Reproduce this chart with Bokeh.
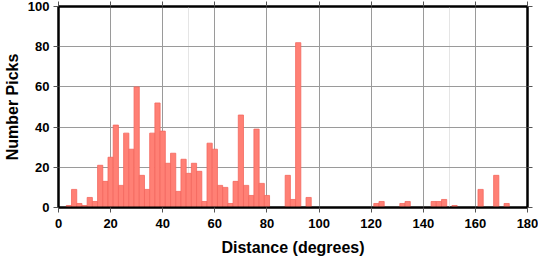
from bokeh.plotting import figure
from bokeh.models import LinearAxis, Range1d, FixedTicker, Grid
from bokeh.embed import file_html
from bokeh.resources import INLINE

# 2-degree bins, centers (degrees) and pick counts
bin_centers = [4, 6, 8, 10, 12, 14, 16, 18, 20, 22, 24, 26, 28, 30, 32, 34, 36, 38, 40,
               42, 44, 46, 48, 50, 52, 54, 56, 58, 60, 62, 64, 66, 68, 70, 72, 74, 76,
               78, 80, 88, 90, 92, 96, 122, 124, 132, 134, 144, 146, 148, 152, 162,
               168, 172]
counts = [1, 9, 2, 1, 5, 3, 21, 13, 25, 41, 11, 37, 29, 60, 16, 9, 37, 52, 38,
          22, 27, 8, 24, 17, 22, 18, 3, 32, 29, 11, 10, 2, 13, 46, 11, 6, 39,
          12, 6, 16, 4, 82, 5, 2, 3, 2, 3, 3, 3, 4, 1, 9,
          16, 2]
x_ticks = [0, 20, 40, 60, 80, 100, 120, 140, 160, 180]
y_ticks = [0, 20, 40, 60, 80, 100]
bin_width = 2

FONT = "Liberation Sans"

p = figure(width=538, height=258, output_backend="svg", toolbar_location=None,
           x_range=Range1d(0, 180), y_range=Range1d(0, 100),
           x_axis_location=None, y_axis_location=None,
           min_border_left=57, min_border_right=11, min_border_top=6,
           min_border_bottom=50)
p.background_fill_color = "white"
p.border_fill_color = "white"
p.outline_line_color = "black"
p.outline_line_width = 2

xt = FixedTicker(ticks=x_ticks)
yt = FixedTicker(ticks=y_ticks)

p.add_layout(Grid(dimension=0, ticker=xt, grid_line_color="#9a9a9a", grid_line_width=1))
p.add_layout(Grid(dimension=1, ticker=yt, grid_line_color="#9a9a9a", grid_line_width=1))

p.vbar(x=bin_centers, top=counts, width=bin_width, bottom=0,
       fill_color="#FF8075", line_color="#F4675E", line_width=0.8)


def make_axis(ticker, show_labels):
    ax = LinearAxis(ticker=ticker)
    ax.axis_line_color = "black"
    ax.axis_line_width = 2
    ax.major_tick_line_color = "#555555"
    ax.major_tick_line_width = 1
    ax.major_tick_out = 5
    ax.major_tick_in = 0
    ax.minor_tick_line_color = None
    if show_labels:
        ax.major_label_text_font = FONT
        ax.major_label_text_font_style = "bold"
        ax.major_label_text_font_size = "13px"
        ax.major_label_text_color = "black"
        ax.axis_label_text_font = FONT
        ax.axis_label_text_font_style = "bold"
        ax.axis_label_text_font_size = "16px"
        ax.axis_label_text_color = "black"
    else:
        ax.major_label_text_font_size = "1px"
        ax.major_label_text_color = None
        ax.major_label_standoff = 0
    return ax


xa = make_axis(xt, True)
xa.axis_label = "Distance (degrees)"
xa.major_label_standoff = 6
xa.axis_label_standoff = 8
p.add_layout(xa, "below")

ya = make_axis(yt, True)
ya.axis_label = "Number Picks"
ya.major_label_standoff = 4
ya.axis_label_standoff = 4
p.add_layout(ya, "left")

p.add_layout(make_axis(xt, False), "above")
p.add_layout(make_axis(yt, False), "right")

open("out.html", "w").write(file_html(p, INLINE))
